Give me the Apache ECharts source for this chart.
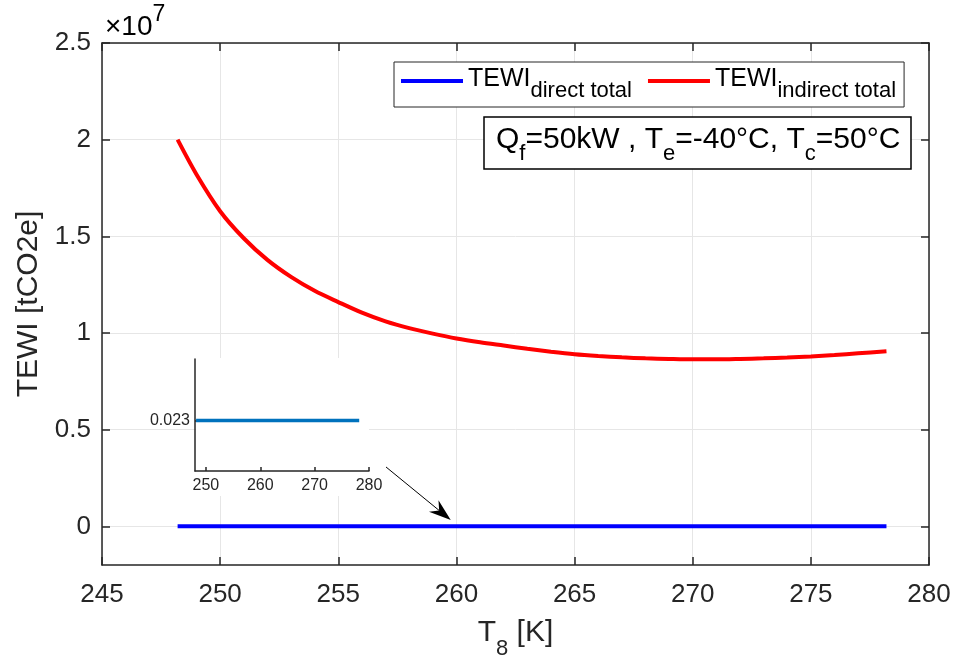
<!DOCTYPE html>
<html>
<head>
<meta charset="utf-8">
<title>TEWI vs T8</title>
<script src="https://cdn.jsdelivr.net/npm/echarts@6/dist/echarts.min.js"></script>
<style>
  html, body { margin: 0; padding: 0; background: #ffffff; }
  #chart { width: 953px; height: 657px; }
</style>
</head>
<body>
<div id="chart"></div>
<script>
// Temperature T8 [K]
const temperatures = [248.2, 249, 250, 251, 252, 253, 254, 255, 256, 257, 258, 259, 260, 261, 262, 263, 264, 265, 266, 267, 268, 269, 270, 271, 272, 273, 274, 275, 276, 277, 278.2];
// TEWI indirect total [tCO2e]
const indirectTotal = [2.00e7, 1.82e7, 1.63e7, 1.49e7, 1.378e7, 1.29e7, 1.218e7, 1.16e7, 1.105e7, 1.06e7, 1.025e7, 0.997e7, 0.972e7, 0.952e7, 0.935e7, 0.918e7, 0.903e7, 0.890e7, 0.881e7, 0.874e7, 0.869e7, 0.866e7, 0.864e7, 0.864e7, 0.866e7, 0.869e7, 0.873e7, 0.879e7, 0.886e7, 0.895e7, 0.906e7];
// TEWI direct total [tCO2e]
const directTotal = [0.023, 0.023, 0.023, 0.023, 0.023, 0.023, 0.023, 0.023, 0.023, 0.023, 0.023, 0.023, 0.023, 0.023, 0.023, 0.023, 0.023, 0.023, 0.023, 0.023, 0.023, 0.023, 0.023, 0.023, 0.023, 0.023, 0.023, 0.023, 0.023, 0.023, 0.023];

// tick values
const yTickValues = [0, 5e6, 1e7, 1.5e7, 2e7, 2.5e7];
const insetXTicks = [250, 260, 270, 280];
const insetYTicks = [0.023];

// arrow pointing from the zoom window to the direct-total line (data coordinates)
const arrowFrom = [257.02, 3.07e6];
const arrowTo = [259.76, 0.33e6];

const FONT = "'Liberation Sans', Arial, Helvetica, sans-serif";
const TXT = '#262626';

// layout of the zoom window
const inset = { left: 195, top: 359, width: 174, height: 112 };

function subRich(main, sub, pad, color) {
  return {
    m: { fontSize: main, lineHeight: main + 3, verticalAlign: 'top', color: color, fontFamily: FONT, fontWeight: 'normal' },
    s: { fontSize: sub, lineHeight: sub, padding: [pad, 0, 0, 0], verticalAlign: 'top', color: color, fontFamily: FONT, fontWeight: 'normal' }
  };
}

const pairs = (xs, ys) => xs.map((x, i) => [x, ys[i]]);

const chart = echarts.init(document.getElementById('chart'), null, { renderer: 'canvas' });

const axisLineStyle = { color: TXT, width: 1.5 };

const option = {
  backgroundColor: '#ffffff',
  animation: false,
  textStyle: { fontFamily: FONT },
  grid: [
    { left: 102, right: 24, top: 43, bottom: 92, outerBoundsMode: 'none', containLabel: false },
    { left: inset.left, top: inset.top, width: inset.width, height: inset.height, outerBoundsMode: 'none', containLabel: false }
  ],
  title: {
    text: '{m|Q}{s|f}{m|=50kW , T}{s|e}{m|=-40°C, T}{s|c}{m|=50°C}',
    left: 484, top: 117,
    padding: [8, 11, 4, 12],
    backgroundColor: '#ffffff',
    borderColor: '#000000',
    borderWidth: 1.5,
    z: 8,
    textStyle: { fontWeight: 'normal', rich: subRich(30, 22, 18, '#000000') }
  },
  legend: {
    left: 394, top: 62,
    padding: [5, 8, 5, 7],
    itemGap: 16,
    itemWidth: 62,
    itemHeight: 4,
    icon: 'rect',
    backgroundColor: '#ffffff',
    borderColor: TXT,
    borderWidth: 1,
    z: 8,
    data: ['TEWI_direct total', 'TEWI_indirect total'],
    formatter: function (name) {
      const parts = name.split('_');
      return '{m|' + parts[0] + '}{s|' + parts[1] + '}';
    },
    textStyle: { rich: subRich(25, 22, 13, '#000000') }
  },
  xAxis: [
    {
      gridIndex: 0, type: 'value', position: 'bottom',
      min: 245, max: 280, interval: 5,
      axisLine: { show: true, onZero: false, lineStyle: axisLineStyle },
      axisTick: { show: true, inside: true, length: 8, lineStyle: axisLineStyle },
      axisLabel: { fontSize: 26, color: TXT, margin: 17, fontFamily: FONT, showMinLabel: true, showMaxLabel: true },
      splitLine: { show: true, lineStyle: { color: '#e6e6e6', width: 1 } },
      name: '{m|T}{s|8}{m| [K]}',
      nameLocation: 'middle',
      nameGap: 53,
      nameTextStyle: { rich: subRich(30, 22, 20, TXT) }
    },
    {
      gridIndex: 0, type: 'value', position: 'top',
      min: 245, max: 280, interval: 5,
      axisLine: { show: true, onZero: false, lineStyle: axisLineStyle },
      axisTick: { show: true, inside: true, length: 8, lineStyle: axisLineStyle },
      axisLabel: { show: false },
      splitLine: { show: false }
    },
    {
      gridIndex: 1, type: 'value', position: 'bottom',
      min: 248, max: 280, z: 4,
      axisLine: { show: true, onZero: false, lineStyle: axisLineStyle },
      axisTick: { show: true, inside: true, length: 4, customValues: insetXTicks, lineStyle: axisLineStyle },
      axisLabel: { customValues: insetXTicks, fontSize: 16, color: TXT, margin: 7, fontFamily: FONT },
      splitLine: { show: false }
    }
  ],
  yAxis: [
    {
      gridIndex: 0, type: 'value', position: 'left',
      min: -2e6, max: 2.5e7,
      axisLine: { show: true, onZero: false, lineStyle: axisLineStyle },
      axisTick: { show: true, inside: true, length: 8, customValues: yTickValues, lineStyle: axisLineStyle },
      axisLabel: {
        customValues: yTickValues, fontSize: 26, color: TXT, margin: 11, fontFamily: FONT,
        formatter: function (v) { return String(Math.round(v / 1e6) / 10); }
      },
      splitLine: { show: true, lineStyle: { color: '#e6e6e6', width: 1 } },
      name: 'TEWI [tCO2e]',
      nameLocation: 'middle',
      nameGap: 58,
      nameTextStyle: { fontSize: 30, color: TXT, fontFamily: FONT }
    },
    {
      gridIndex: 0, type: 'value', position: 'right',
      min: -2e6, max: 2.5e7,
      axisLine: { show: true, onZero: false, lineStyle: axisLineStyle },
      axisTick: { show: true, inside: true, length: 8, customValues: yTickValues, lineStyle: axisLineStyle },
      axisLabel: { show: false },
      splitLine: { show: false }
    },
    {
      gridIndex: 1, type: 'value', position: 'left',
      min: 0.0225, max: 0.02361, z: 4,
      axisLine: { show: true, onZero: false, lineStyle: axisLineStyle },
      axisTick: { show: true, inside: true, length: 4, customValues: insetYTicks, lineStyle: axisLineStyle },
      axisLabel: { customValues: insetYTicks, fontSize: 16, color: TXT, margin: 5, fontFamily: FONT },
      splitLine: { show: false }
    }
  ],
  series: [
    {
      name: 'TEWI_direct total',
      type: 'line',
      xAxisIndex: 0, yAxisIndex: 0,
      data: pairs(temperatures, directTotal),
      symbol: 'none',
      color: '#0000ff',
      lineStyle: { width: 4, color: '#0000ff' },
      z: 3
    },
    {
      name: 'TEWI_indirect total',
      type: 'line',
      xAxisIndex: 0, yAxisIndex: 0,
      data: pairs(temperatures, indirectTotal),
      symbol: 'none',
      smooth: 0.3,
      color: '#ff0000',
      lineStyle: { width: 4, color: '#ff0000' },
      z: 3
    },
    {
      name: 'zoom',
      type: 'line',
      xAxisIndex: 2, yAxisIndex: 2,
      data: pairs(temperatures, directTotal),
      symbol: 'none',
      color: '#0072bd',
      lineStyle: { width: 3.5, color: '#0072bd' },
      z: 5
    }
  ]
};

chart.setOption(option);

// white backdrop behind the zoom window, the annotation arrow and the axis exponent
const p0 = chart.convertToPixel({ gridIndex: 0 }, arrowFrom);
const p1 = chart.convertToPixel({ gridIndex: 0 }, arrowTo);
const dx = p1[0] - p0[0], dy = p1[1] - p0[1];
const len = Math.sqrt(dx * dx + dy * dy);
const ux = dx / len, uy = dy / len;
const px = -uy, py = ux;
const headLen = 22, headHalf = 7.5, notch = 15;
const head = [
  [p1[0], p1[1]],
  [p1[0] - ux * headLen + px * headHalf, p1[1] - uy * headLen + py * headHalf],
  [p1[0] - ux * notch, p1[1] - uy * notch],
  [p1[0] - ux * headLen - px * headHalf, p1[1] - uy * headLen - py * headHalf]
];

chart.setOption({
  graphic: [
    {
      type: 'rect', z: 1,
      shape: { x: inset.left + 1, y: inset.top - 1, width: inset.width - 1, height: inset.height + 26 },
      style: { fill: '#ffffff' }
    },
    {
      type: 'line', z: 6,
      shape: { x1: p0[0], y1: p0[1], x2: p1[0] - ux * notch, y2: p1[1] - uy * notch },
      style: { stroke: '#000000', lineWidth: 1 }
    },
    {
      type: 'polygon', z: 6,
      shape: { points: head },
      style: { fill: '#000000' }
    },
    {
      type: 'text', z: 6,
      left: 105, top: 3,
      style: {
        text: '{a|×10}{b|7}',
        rich: {
          a: { fontSize: 28, lineHeight: 28, padding: [10, 0, 0, 0], verticalAlign: 'top', color: TXT, fontFamily: FONT },
          b: { fontSize: 23, lineHeight: 23, verticalAlign: 'top', color: TXT, fontFamily: FONT }
        }
      }
    }
  ]
});
</script>
</body>
</html>
